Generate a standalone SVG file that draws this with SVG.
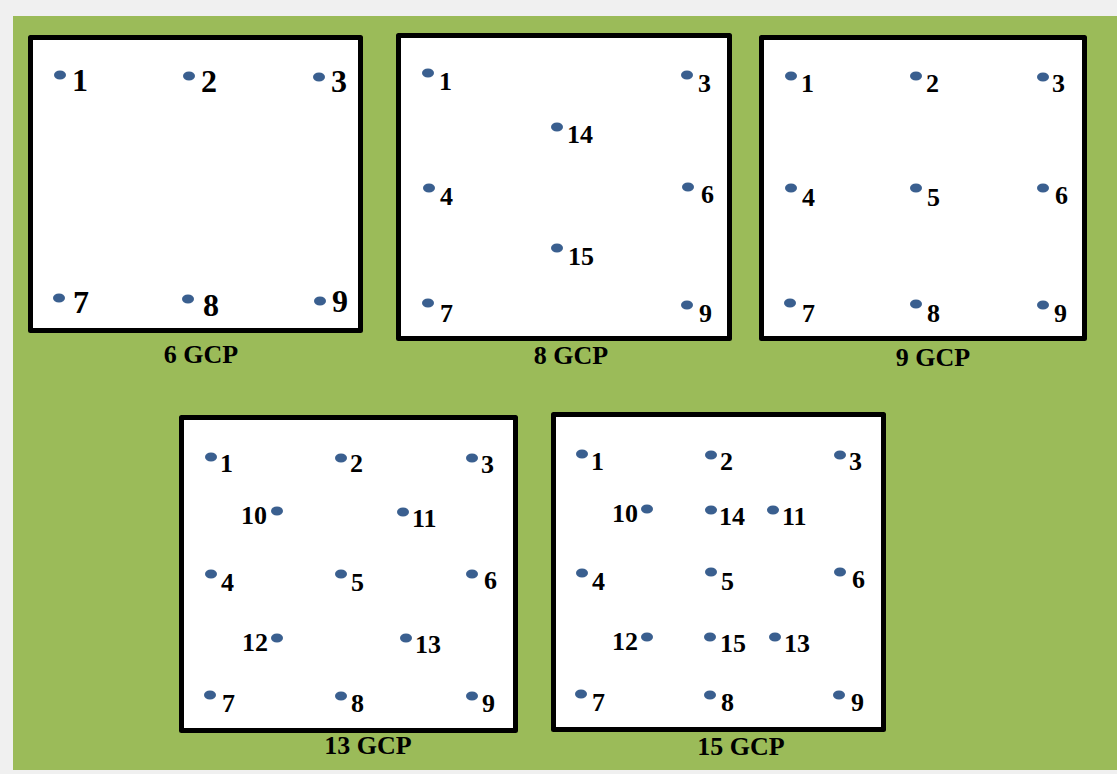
<svg xmlns="http://www.w3.org/2000/svg" width="1117" height="774" viewBox="0 0 1117 774">
<style>
.box{fill:#fff;stroke:#000;stroke-width:5;stroke-linejoin:round}
.d{fill:#3a5f8f}
.l{font-family:"Liberation Serif","Times New Roman",serif;font-weight:bold;font-size:26px;fill:#000}
.big{font-size:32px}
.cap{font-family:"Liberation Serif","Times New Roman",serif;font-weight:bold;font-size:26px;fill:#000;text-anchor:middle}
</style>
<rect x="0" y="0" width="1117" height="774" fill="#f0f0f0"/>
<rect x="13" y="16" width="1104" height="754" fill="#9bbb59"/>

<g id="gcp6">
<rect class="box" x="30.5" y="37.5" width="330" height="293"/>
<g class="d">
<ellipse cx="60" cy="75" rx="6" ry="4.5"/><ellipse cx="189" cy="76" rx="6" ry="4.5"/><ellipse cx="319" cy="77" rx="6" ry="4.5"/>
<ellipse cx="59" cy="298" rx="6" ry="4.5"/><ellipse cx="188" cy="299" rx="6" ry="4.5"/><ellipse cx="320" cy="301" rx="6" ry="4.5"/>
</g>
<g class="l big">
<text x="72" y="91">1</text><text x="201" y="92">2</text><text x="331" y="92">3</text>
<text x="73" y="313">7</text><text x="203" y="316">8</text><text x="332" y="312">9</text>
</g>
<text class="cap" x="201" y="363">6 GCP</text>
</g>

<g id="gcp8">
<rect class="box" x="398.5" y="35.5" width="331" height="303"/>
<g class="d">
<ellipse cx="428" cy="73" rx="6" ry="4.5"/><ellipse cx="687" cy="75" rx="6" ry="4.5"/>
<ellipse cx="557" cy="127" rx="6" ry="4.5"/>
<ellipse cx="429" cy="188" rx="6" ry="4.5"/><ellipse cx="688" cy="187" rx="6" ry="4.5"/>
<ellipse cx="557" cy="248" rx="6" ry="4.5"/>
<ellipse cx="428" cy="303" rx="6" ry="4.5"/><ellipse cx="687" cy="305" rx="6" ry="4.5"/>
</g>
<g class="l">
<text x="439" y="90">1</text><text x="698" y="92">3</text>
<text x="567" y="143">14</text>
<text x="440" y="205">4</text><text x="701" y="203">6</text>
<text x="568" y="265">15</text>
<text x="440" y="322">7</text><text x="699" y="322">9</text>
</g>
<text class="cap" x="571" y="364">8 GCP</text>
</g>

<g id="gcp9">
<rect class="box" x="761.5" y="37.5" width="323" height="301"/>
<g class="d">
<ellipse cx="791" cy="76" rx="6" ry="4.5"/><ellipse cx="916" cy="76" rx="6" ry="4.5"/><ellipse cx="1043" cy="77" rx="6" ry="4.5"/>
<ellipse cx="791" cy="188" rx="6" ry="4.5"/><ellipse cx="916" cy="188" rx="6" ry="4.5"/><ellipse cx="1043" cy="188" rx="6" ry="4.5"/>
<ellipse cx="790" cy="303" rx="6" ry="4.5"/><ellipse cx="916" cy="304" rx="6" ry="4.5"/><ellipse cx="1043" cy="305" rx="6" ry="4.5"/>
</g>
<g class="l">
<text x="801" y="92">1</text><text x="926" y="92">2</text><text x="1052" y="92">3</text>
<text x="802" y="206">4</text><text x="927" y="206">5</text><text x="1055" y="204">6</text>
<text x="802" y="322">7</text><text x="927" y="322">8</text><text x="1054" y="322">9</text>
</g>
<text class="cap" x="933" y="366">9 GCP</text>
</g>

<g id="gcp13">
<rect class="box" x="181.5" y="417.5" width="334" height="313"/>
<g class="d">
<ellipse cx="211" cy="457" rx="6" ry="4.5"/><ellipse cx="341" cy="458" rx="6" ry="4.5"/><ellipse cx="472" cy="458" rx="6" ry="4.5"/>
<ellipse cx="277" cy="511" rx="6" ry="4.5"/><ellipse cx="403" cy="512" rx="6" ry="4.5"/>
<ellipse cx="211" cy="574" rx="6" ry="4.5"/><ellipse cx="341" cy="574" rx="6" ry="4.5"/><ellipse cx="472" cy="574" rx="6" ry="4.5"/>
<ellipse cx="277" cy="638" rx="6" ry="4.5"/><ellipse cx="406" cy="638" rx="6" ry="4.5"/>
<ellipse cx="210" cy="695" rx="6" ry="4.5"/><ellipse cx="341" cy="696" rx="6" ry="4.5"/><ellipse cx="472" cy="696" rx="6" ry="4.5"/>
</g>
<g class="l">
<text x="220" y="472">1</text><text x="350" y="472">2</text><text x="481" y="473">3</text>
<text x="241" y="524">10</text><text x="412" y="527">11</text>
<text x="221" y="591">4</text><text x="351" y="591">5</text><text x="484" y="589">6</text>
<text x="242" y="651">12</text><text x="415" y="653">13</text>
<text x="222" y="712">7</text><text x="351" y="712">8</text><text x="482" y="712">9</text>
</g>
<text class="cap" x="368" y="754">13 GCP</text>
</g>

<g id="gcp15">
<rect class="box" x="553.5" y="414.5" width="330" height="315"/>
<g class="d">
<ellipse cx="582" cy="454" rx="6" ry="4.5"/><ellipse cx="711" cy="455" rx="6" ry="4.5"/><ellipse cx="840" cy="455" rx="6" ry="4.5"/>
<ellipse cx="647" cy="509" rx="6" ry="4.5"/><ellipse cx="711" cy="510" rx="6" ry="4.5"/><ellipse cx="773" cy="510" rx="6" ry="4.5"/>
<ellipse cx="582" cy="573" rx="6" ry="4.5"/><ellipse cx="711" cy="572" rx="6" ry="4.5"/><ellipse cx="840" cy="572" rx="6" ry="4.5"/>
<ellipse cx="647" cy="637" rx="6" ry="4.5"/><ellipse cx="710" cy="637" rx="6" ry="4.5"/><ellipse cx="775" cy="637" rx="6" ry="4.5"/>
<ellipse cx="581" cy="694" rx="6" ry="4.5"/><ellipse cx="710" cy="695" rx="6" ry="4.5"/><ellipse cx="839" cy="695" rx="6" ry="4.5"/>
</g>
<g class="l">
<text x="591" y="470">1</text><text x="720" y="470">2</text><text x="849" y="470">3</text>
<text x="612" y="522">10</text><text x="719" y="525">14</text><text x="782" y="525">11</text>
<text x="592" y="590">4</text><text x="721" y="590">5</text><text x="852" y="588">6</text>
<text x="612" y="650">12</text><text x="720" y="652">15</text><text x="784" y="652">13</text>
<text x="592" y="711">7</text><text x="721" y="711">8</text><text x="851" y="711">9</text>
</g>
<text class="cap" x="741" y="755">15 GCP</text>
</g>

<g id="connectors"/>
</svg>
